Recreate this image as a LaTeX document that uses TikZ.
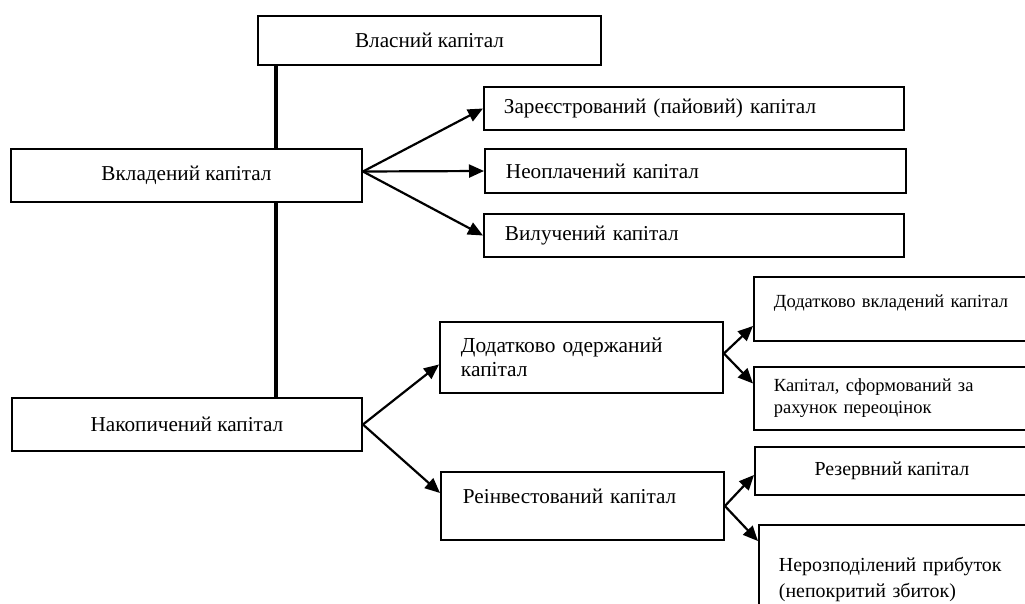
\documentclass[tikz,border=0pt]{standalone}
\usepackage{fontspec}
\setmainfont{Liberation Serif}
\usetikzlibrary{arrows.meta}

\begin{document}
\begin{tikzpicture}[x=1pt,y=-1pt,font=\fontsize{21.2}{25}\selectfont,
  box/.style={draw,line width=1.9pt,inner sep=0pt},
  lbox/.style={box,anchor=west,align=left},
  link/.style={line width=2.2pt,-{Triangle[length=15pt,width=13pt]}},
  trunk/.style={line width=4.4pt}]
  \useasboundingbox (0,0) rectangle (1025,604);
  \clip (0,0) rectangle (1025,604);
  \coordinate (spine) at (276,0);
  % left column
  \node[box,minimum width=343pt,minimum height=49pt] (vlasnyi) at (429.5,40.5) {Власний капітал};
  \node[box,minimum width=351pt,minimum height=53pt] (vkladenyi) at (186.5,175.5) {Вкладений капітал};
  \node[box,minimum width=350pt,minimum height=53pt] (nakopych) at (187,424.5) {Накопичений капітал};
  \draw[trunk] (vlasnyi.south -| spine) -- (vkladenyi.north -| spine);
  \draw[trunk] (vkladenyi.south -| spine) -- (nakopych.north -| spine);
  % contributed capital
  \node[lbox,minimum width=420pt,minimum height=43pt,text width=380pt] (zareestr) at (483,108.5) {Зареєстрований (пайовий) капітал};
  \node[lbox,minimum width=421pt,minimum height=44pt,text width=379pt] (neoplach) at (484,171) {Неоплачений капітал};
  \node[lbox,minimum width=420pt,minimum height=43pt,text width=378pt] (vyluch) at (483,235.5) {Вилучений капітал};
  \coordinate (vk) at ([yshift=4pt]vkladenyi.east);
  \draw[link] (vk) -- (zareestr.west);
  \draw[link] (vk) -- (neoplach.west);
  \draw[link] (vk) -- (vyluch.west);
  % accumulated capital
  \node[lbox,minimum width=283pt,minimum height=71pt,text width=241pt,
    font=\fontsize{21.4}{24}\selectfont] (oderzh) at (439,357.5) {Додатково одержаний\\капітал};
  \node[lbox,minimum width=283pt,minimum height=68pt,text width=239pt,
    text height=15pt,text depth=21pt] (reinv) at (440,506) {Реінвестований капітал};
  \draw[link] (nakopych.east) -- ([yshift=-7pt]oderzh.west);
  \draw[link] (nakopych.east) -- ([yshift=13pt]reinv.west);
  % right column
  \begin{scope}[font=\fontsize{18.5}{22}\selectfont]
    \node[lbox,minimum width=290pt,minimum height=64pt,text width=250pt,
      text height=13pt,text depth=16pt] (dodvklad) at (753,309) {Додатково вкладений капітал};
    \node[lbox,minimum width=290pt,minimum height=63pt,text width=250pt] (sform) at (753,398.5) {Капітал, сформований за\\рахунок переоцінок};
  \end{scope}
  \node[box,anchor=west,minimum width=274pt,minimum height=48pt,
    font=\fontsize{19.9}{24}\selectfont] (rezerv) at (754,471) {Резервний капітал};
  \node[lbox,minimum width=290pt,minimum height=108pt,text width=250pt,
    font=\fontsize{19.9}{26}\selectfont] (nerozpod) at (758,579) {Нерозподілений прибуток\\(непокритий збиток)};
  \draw[link] ([yshift=4pt]oderzh.east) -- ([yshift=-17pt]dodvklad.west);
  \draw[link] ([yshift=4pt]oderzh.east) -- ([yshift=15pt]sform.west);
  \draw[link] (reinv.east) -- ([yshift=-4pt]rezerv.west);
  \draw[link] (reinv.east) -- ([yshift=-17pt]nerozpod.north west);
\end{tikzpicture}
\end{document}
